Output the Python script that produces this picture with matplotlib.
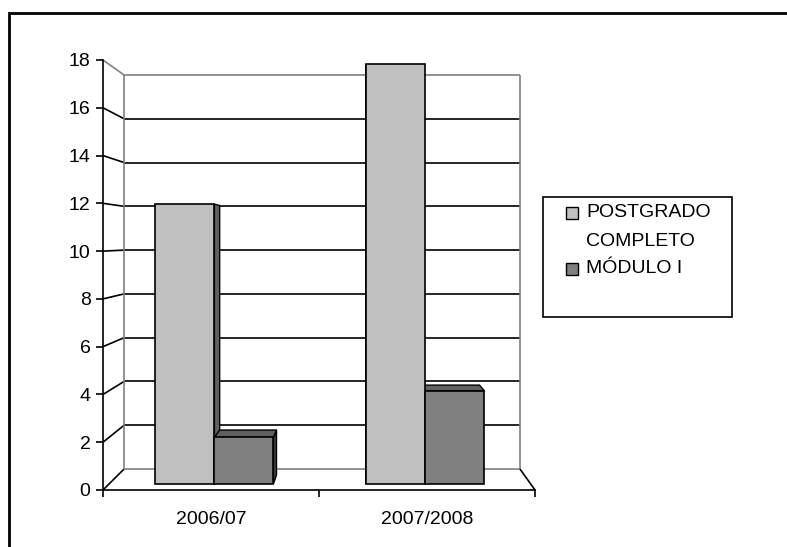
import matplotlib
matplotlib.use('Agg')
import matplotlib.pyplot as plt
from matplotlib.patches import Polygon, Rectangle

plt.rcParams['font.family'] = ['Liberation Sans', 'DejaVu Sans']

categories = ['2006/07', '2007/2008']
series_names = ['POSTGRADO\nCOMPLETO', 'MÓDULO I']
postgrado = [12, 18]
modulo = [2, 4]
yticks = [0, 2, 4, 6, 8, 10, 12, 14, 16, 18]

front_colors = ['#C0C0C0', '#808080']
side_colors = ['#606060', '#404040']
top_colors = ['#909090', '#606060']

W, H = 787, 547
fig = plt.figure(figsize=(W / 100, H / 100), dpi=100)
ax = fig.add_axes([103 / W, 57 / H, 432 / W, 430 / H])
ax.set_xlim(-0.5, 1.5)
ax.set_ylim(0, 18)

# perspective: vanishing point and how much the back wall shrinks
xv, yv = 0.667, 10.5
shrink = 0.0835


def proj(x, v, t):
    k = 1 - t * shrink
    return xv + k * (x - xv), yv + k * (v - yv)


def line3(pts, color):
    p = [proj(*q) for q in pts]
    ax.plot([a[0] for a in p], [a[1] for a in p], color=color, lw=1.2,
            solid_capstyle='butt', clip_on=False, zorder=1)


# walls and gridlines
for v in yticks:
    conn = '#808080' if v == 18 else 'black'
    back = '#808080' if v in (0, 18) else 'black'
    line3([(-0.5, v, 0), (-0.5, v, 1)], conn)
    line3([(-0.5, v, 1), (1.5, v, 1)], back)
line3([(-0.5, 0, 1), (-0.5, 18, 1)], '#808080')
line3([(1.5, 0, 1), (1.5, 18, 1)], '#808080')
line3([(1.5, 0, 0), (1.5, 0, 1)], 'black')

# bars
width = 0.28
t0, t1 = 0.28, 0.72
fronts = []
for s, vals in enumerate([postgrado, modulo]):
    for i, val in enumerate(vals):
        x0 = i - width + s * width
        x1 = x0 + width
        # side face facing the vanishing point
        if xv > x1:
            xs = x1
        elif xv < x0:
            xs = x0
        else:
            xs = None
        if xs is not None:
            side = [proj(xs, 0, t0), proj(xs, val, t0), proj(xs, val, t1), proj(xs, 0, t1)]
            ax.add_patch(Polygon(side, closed=True, fc=side_colors[s], ec='black',
                                 lw=1, zorder=2, clip_on=False))
        if val < yv:
            top = [proj(x0, val, t0), proj(x1, val, t0), proj(x1, val, t1), proj(x0, val, t1)]
            ax.add_patch(Polygon(top, closed=True, fc=top_colors[s], ec='black',
                                 lw=1, zorder=2, clip_on=False))
        front = [proj(x0, 0, t0), proj(x1, 0, t0), proj(x1, val, t0), proj(x0, val, t0)]
        fronts.append(Polygon(front, closed=True, fc=front_colors[s], ec='black',
                              lw=1.2, zorder=3, clip_on=False))
for p in fronts:
    ax.add_patch(p)

# axes
for sp in ['top', 'right']:
    ax.spines[sp].set_visible(False)
ax.spines['left'].set_linewidth(1.2)
ax.spines['bottom'].set_linewidth(1.2)
ax.set_yticks(yticks)
ax.tick_params(axis='y', direction='out', length=5, width=1.2, labelsize=14, pad=4)
ax.set_xticks([-0.5, 0.5, 1.5])
ax.set_xticklabels([])
ax.set_xticks([0, 1], minor=True)
ax.set_xticklabels(categories, minor=True)
ax.tick_params(axis='x', which='major', direction='out', length=5, width=1.2)
ax.tick_params(axis='x', which='minor', length=0, labelsize=14, pad=15)
ax.patch.set_visible(False)


# legend drawn in figure pixels
def fx(px):
    return px / W


def fy(py):
    return 1 - py / H


fig.patches.append(Rectangle((fx(543), fy(317)), fx(732) - fx(543), fy(197) - fy(317),
                             transform=fig.transFigure, fill=False, ec='black', lw=1.2))
rows = [213, 269]
for s, name in enumerate(series_names):
    yc = rows[s]
    fig.patches.append(Rectangle((fx(566), fy(yc + 6)), fx(578) - fx(566), fy(yc - 6) - fy(yc + 6),
                                 transform=fig.transFigure, fc=front_colors[s], ec='black', lw=1))
    fig.text(fx(586), fy(yc - 9), name, ha='left', va='top', fontsize=14,
             linespacing=1.95)

# outer frame
fig.patches.append(Rectangle((fx(8.5), -0.1), 1.2, fy(12.5) + 0.1,
                             transform=fig.transFigure, fill=False, ec='black', lw=2))

fig.savefig('out.png', dpi=100)
